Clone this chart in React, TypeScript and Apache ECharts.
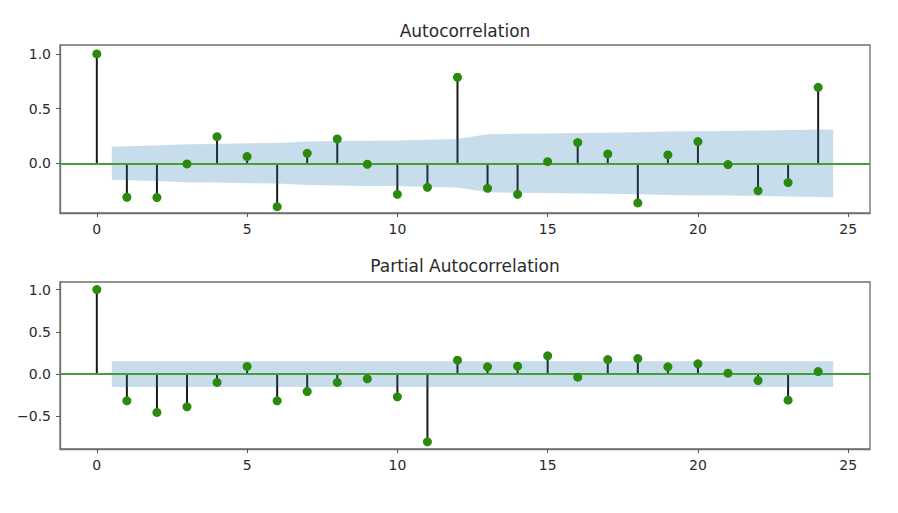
import React, { useEffect, useRef } from 'react';
import * as echarts from 'echarts';

// lags 0..24
const lags = [0, 1, 2, 3, 4, 5, 6, 7, 8, 9, 10, 11, 12, 13, 14, 15, 16, 17, 18, 19, 20, 21, 22, 23, 24];

const acfValues = [
  1.0, -0.311, -0.313, -0.006, 0.243, 0.061, -0.397, 0.091, 0.222, -0.009, -0.284, -0.22, 0.787,
  -0.229, -0.284, 0.015, 0.189, 0.085, -0.363, 0.076, 0.198, -0.012, -0.251, -0.177, 0.695,
];

const pacfValues = [
  1.0, -0.315, -0.453, -0.386, -0.098, 0.091, -0.315, -0.205, -0.098, -0.055, -0.268, -0.8, 0.165,
  0.087, 0.094, 0.217, -0.035, 0.173, 0.185, 0.087, 0.122, 0.012, -0.075, -0.307, 0.031,
];

// confidence band (half width), drawn from 0.5 to 24.5
const bandLags = [0.5, 2, 3, 4, 5, 6, 7, 8, 9, 10, 11, 12, 13, 14, 15, 16, 17, 18, 19, 20, 21, 22, 23, 24.5];
const acfBand = [
  0.15, 0.163, 0.174, 0.176, 0.182, 0.185, 0.198, 0.203, 0.207, 0.208, 0.216, 0.221,
  0.265, 0.27, 0.273, 0.276, 0.279, 0.284, 0.29, 0.294, 0.296, 0.299, 0.305, 0.31,
];
const pacfBand = [
  0.152, 0.152, 0.152, 0.152, 0.152, 0.152, 0.152, 0.152, 0.152, 0.152, 0.152, 0.152,
  0.152, 0.152, 0.152, 0.152, 0.152, 0.152, 0.152, 0.152, 0.152, 0.152, 0.152, 0.152,
];

const xTicks = [0, 5, 10, 15, 20, 25];
const acfYTicks = [0, 0.5, 1.0];
const pacfYTicks = [-0.5, 0, 0.5, 1.0];

const FONT = 'DejaVu Sans';

const fmt = (v: number) => (v < 0 ? '\u2212' + Math.abs(v).toFixed(1) : v.toFixed(1));

const App: React.FC = () => {
  const chartRef = useRef<HTMLDivElement>(null);

  useEffect(() => {
    if (!chartRef.current) return;
    const chart = echarts.init(chartRef.current, undefined, { renderer: 'svg' });

    const xAxis = (gridIndex: number) => ({
      type: 'value',
      gridIndex,
      min: -1.225,
      max: 25.725,
      splitLine: { show: false },
      axisLine: { show: true, onZero: false, lineStyle: { color: '#6f6f6f', width: 1.3 } },
      axisTick: { show: true, length: 4, customValues: xTicks, lineStyle: { color: '#555' } },
      axisLabel: {
        customValues: xTicks,
        margin: 9,
        fontSize: 14,
        fontFamily: FONT,
        color: '#2a2a2a',
      },
    });

    const yAxis = (gridIndex: number, min: number, max: number, ticks: number[]) => ({
      type: 'value',
      gridIndex,
      min,
      max,
      splitLine: { show: false },
      axisLine: { show: true, onZero: false, lineStyle: { color: '#6f6f6f', width: 1.3 } },
      axisTick: { show: true, length: 4, customValues: ticks, lineStyle: { color: '#555' } },
      axisLabel: {
        customValues: ticks,
        margin: 9,
        fontSize: 14,
        fontFamily: FONT,
        color: '#2a2a2a',
        formatter: (v: number) => fmt(v),
      },
    });

    const bandSeries = (idx: number, band: number[]) => ({
      type: 'custom',
      xAxisIndex: idx,
      yAxisIndex: idx,
      z: 3,
      silent: true,
      data: [[0, 0]],
      renderItem: (_params: any, api: any) => {
        const upper = bandLags.map((x, i) => api.coord([x, band[i]]));
        const lower = bandLags.map((x, i) => api.coord([x, -band[i]])).reverse();
        return {
          type: 'polygon',
          shape: { points: upper.concat(lower) },
          style: { fill: 'rgba(31,119,180,0.25)', stroke: 'none' },
        };
      },
    });

    const stemSeries = (idx: number, values: number[]) => ({
      type: 'custom',
      xAxisIndex: idx,
      yAxisIndex: idx,
      z: 2,
      silent: true,
      data: lags.map((l, i) => [l, values[i]]),
      renderItem: (_params: any, api: any) => {
        const p0 = api.coord([api.value(0), 0]);
        const p1 = api.coord([api.value(0), api.value(1)]);
        return {
          type: 'line',
          shape: { x1: p0[0], y1: p0[1], x2: p1[0], y2: p1[1] },
          style: { stroke: '#1a1a1a', lineWidth: 2 },
        };
      },
    });

    const dotSeries = (idx: number, values: number[]) => ({
      type: 'scatter',
      xAxisIndex: idx,
      yAxisIndex: idx,
      z: 5,
      silent: true,
      symbolSize: 9,
      itemStyle: { color: '#2b8a0d', opacity: 1 },
      data: lags.map((l, i) => [l, values[i]]),
      markLine: {
        silent: true,
        symbol: 'none',
        z: 4,
        label: { show: false },
        lineStyle: { color: '#45a03a', width: 2.2, type: 'solid' },
        data: [{ yAxis: 0 }],
      },
    });

    const option: any = {
      animation: false,
      backgroundColor: '#ffffff',
      grid: [
        { left: 60, top: 45, width: 810, height: 168, show: true, borderColor: '#6f6f6f', borderWidth: 1.3 },
        { left: 60, top: 282, width: 810, height: 167, show: true, borderColor: '#6f6f6f', borderWidth: 1.3 },
      ],
      xAxis: [xAxis(0), xAxis(1)],
      yAxis: [yAxis(0, -0.455, 1.082, acfYTicks), yAxis(1, -0.885, 1.09, pacfYTicks)],
      graphic: [
        {
          type: 'text',
          x: 465,
          y: 31,
          style: {
            text: 'Autocorrelation',
            font: `17px "${FONT}"`,
            fill: '#2a2a2a',
            textAlign: 'center',
            textVerticalAlign: 'middle',
          },
        },
        {
          type: 'text',
          x: 465,
          y: 266,
          style: {
            text: 'Partial Autocorrelation',
            font: `17px "${FONT}"`,
            fill: '#2a2a2a',
            textAlign: 'center',
            textVerticalAlign: 'middle',
          },
        },
      ],
      series: [
        stemSeries(0, acfValues),
        bandSeries(0, acfBand),
        dotSeries(0, acfValues),
        stemSeries(1, pacfValues),
        bandSeries(1, pacfBand),
        dotSeries(1, pacfValues),
      ],
    };

    chart.setOption(option);
    return () => {
      chart.dispose();
    };
  }, []);

  return (
    <div
      ref={chartRef}
      style={{ position: 'fixed', left: 0, top: 0, width: '898px', height: '513px' }}
    />
  );
};

export default App;
